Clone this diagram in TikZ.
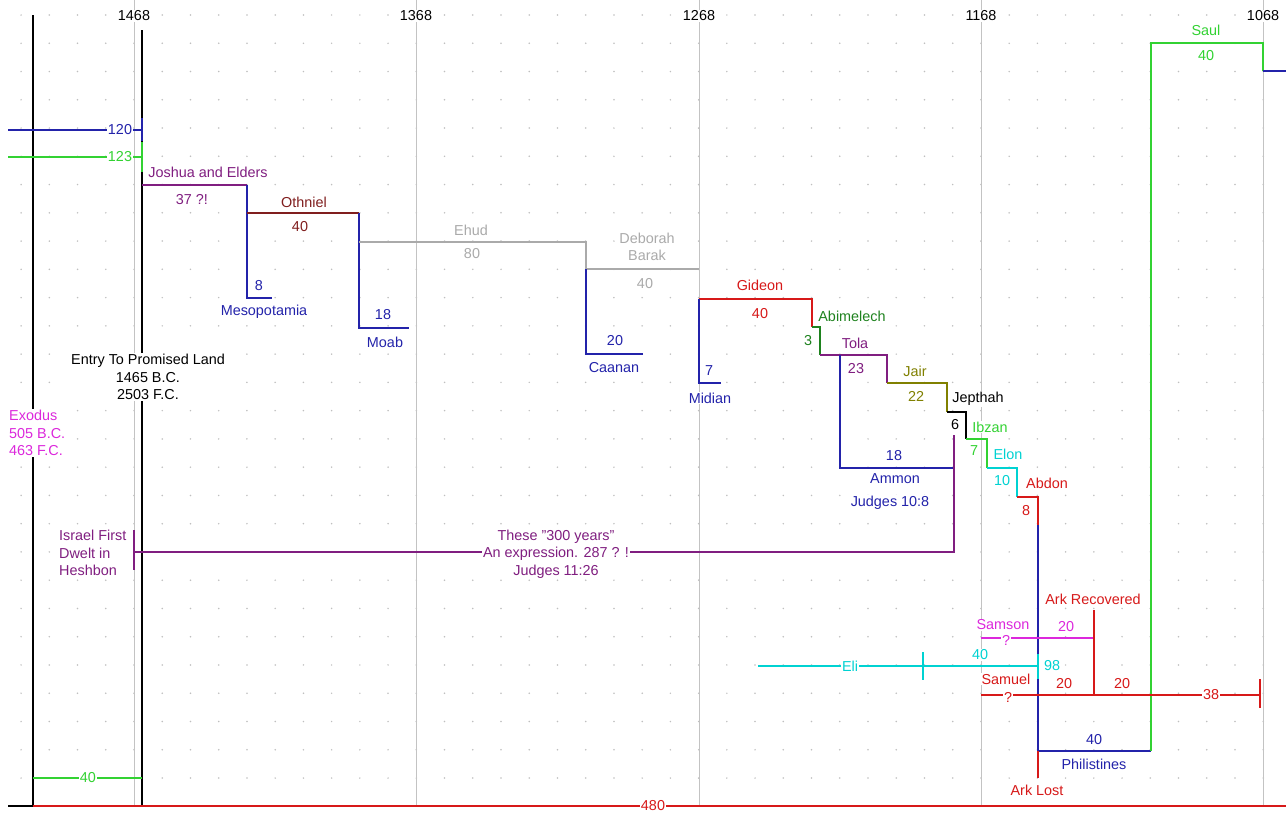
\documentclass[tikz,border=0pt]{standalone}
\usepackage{fontspec}
\setmainfont{Liberation Sans}[Ligatures=ResetAll]
\usepackage{tikz}
\usepackage{xcolor}

\definecolor{jblue}{RGB}{35,35,170}
\definecolor{jgreen}{RGB}{50,210,50}
\definecolor{jdkgreen}{RGB}{30,130,30}
\definecolor{jpurple}{RGB}{128,30,128}
\definecolor{jbrown}{RGB}{128,30,30}
\definecolor{jred}{RGB}{215,25,25}
\definecolor{jgray}{RGB}{170,170,170}
\definecolor{jolive}{RGB}{128,128,0}
\definecolor{jcyan}{RGB}{0,210,210}
\definecolor{jmagenta}{RGB}{220,40,220}
\definecolor{gridgray}{RGB}{195,195,195}

\tikzset{
  lbl/.style={font=\fontsize{14.4}{17.5}\selectfont, inner sep=1pt, fill=white, align=center, text=#1},
  lbl/.default=black,
  era/.style={line width=1.4pt},
}

\begin{document}
\begin{tikzpicture}[x=1pt,y=-1pt]
		\useasboundingbox[fill=white] (0,0) rectangle (1286,814);

		% dotted background, one dot every ten years
		\foreach \i in {0,...,44}
			\foreach \j in {0,...,27}
				\fill[gray!50] ({21.1+28.23*\i},{15+28.26*\j}) circle (0.85);

		% century lines with their years
		\foreach \x/\yr in {134/1468, 416/1368, 699/1268, 981/1168, 1263/1068} {
			\draw[gridgray, line width=1pt] (\x,0) -- (\x,806);
			\node[lbl] (yr\yr) at (\x,16) {\yr};
		}

		% exodus and entry lines
		\draw[line width=1.6pt] (33,15) -- (33,806) -- (8,806);
		\draw[line width=1.6pt] (142,30) -- (142,806);
		\draw[jred, era] (33,806) -- (1286,806);
		\draw[jgreen, era] (33,778) -- (142,778);

		% 120 and 123 years
		\draw[jblue, era] (8,130) -- (142,130);
		\draw[jblue, era] (142,118) -- (142,141);
		\draw[jgreen, era] (8,157) -- (142,157);
		\draw[jgreen, era] (142,142) -- (142,172);

		% judges and oppressions, step by step
		\draw[jpurple, era] (142,185) -- (247,185); % Joshua and Elders
		\draw[jblue, era] (247,185) -- (247,298) -- (272,298); % Mesopotamia
		\draw[jbrown, era] (247,213) -- (359,213); % Othniel
		\draw[jblue, era] (359,213) -- (359,328) -- (409,328); % Moab
		\draw[jgray, era] (359,242) -- (586,242) -- (586,269) -- (699,269); % Ehud, Deborah
		\draw[jblue, era] (586,269) -- (586,354) -- (643,354); % Caanan
		\draw[jred, era] (699,299) -- (812,299) -- (812,327); % Gideon
		\draw[jblue, era] (699,299) -- (699,383) -- (721,383); % Midian
		\draw[jdkgreen, era] (812,327) -- (820,327) -- (820,355); % Abimelech
		\draw[jpurple, era] (820,355) -- (887,355) -- (887,383); % Tola
		\draw[jblue, era] (840,355) -- (840,468) -- (954,468); % Ammon
		\draw[jolive, era] (887,383) -- (947,383) -- (947,412); % Jair
		\draw[era] (947,412) -- (966,412) -- (966,439); % Jepthah
		\draw[jgreen, era] (966,439) -- (987,439) -- (987,468); % Ibzan
		\draw[jcyan, era] (987,468) -- (1017,468) -- (1017,497); % Elon
		\draw[jred, era] (1017,497) -- (1038,497) -- (1038,525); % Abdon
		\draw[jblue, era] (1038,525) -- (1038,751) -- (1151,751); % Philistines
		\draw[jgreen, era] (1151,751) -- (1151,43) -- (1263,43) -- (1263,71); % Saul
		\draw[jblue, era] (1263,71) -- (1286,71);
		\draw[jred, era] (1038,751) -- (1038,778); % Ark lost

		% the 300 years of Judges 11:26
		\draw[jpurple, era] (954,435) -- (954,552) -- (134,552);
		\draw[jpurple, era] (134,530) -- (134,570);

		% Samson, Eli, Samuel
		\draw[jmagenta, era] (981,638) -- (1094,638);
		\draw[jred, era] (1094,610) -- (1094,695);
		\draw[jcyan, era] (758,666) -- (1038,666);
		\draw[jcyan, era] (923,652) -- (923,680);
		\draw[jcyan, era] (1038,654) -- (1038,679);
		\draw[jred, era] (981,695) -- (1260,695);
		\draw[jred, era] (1260,679) -- (1260,708);

		% labels
		\node[lbl=jmagenta, align=left, anchor=west] (exodus) at (8,433) {Exodus\\505 B.C.\\463 F.C.};
		\node[lbl] (entry) at (148,377) {Entry To Promised Land\\1465 B.C.\\2503 F.C.};
		\node[lbl=jblue] (n120) at (120,130) {120};
		\node[lbl=jgreen] (n123) at (120,157) {123};
		\node[lbl=jgreen] (n40a) at (88,778) {40};
		\node[lbl=jred] (n480) at (653,806) {480};

		\node[lbl=jpurple] (joshua) at (208,172) {Joshua and Elders};
		\node[lbl=jpurple] (joshuayr) at (192,200) {37 ?!};
		\node[lbl=jblue] (mesoyr) at (259,286) {8};
		\node[lbl=jblue] (meso) at (264,312) {Mesopotamia};
		\node[lbl=jbrown] (othniel) at (304,202) {Othniel};
		\node[lbl=jbrown] (othnielyr) at (300,227) {40};
		\node[lbl=jblue] (moabyr) at (383,315) {18};
		\node[lbl=jblue] (moab) at (385,342) {Moab};
		\node[lbl=jgray] (ehud) at (471,230) {Ehud};
		\node[lbl=jgray] (ehudyr) at (472,254) {80};
		\node[lbl=jgray] (deborah) at (647,247) {Deborah\\Barak};
		\node[lbl=jgray] (deborahyr) at (645,284) {40};
		\node[lbl=jblue] (caananyr) at (615,341) {20};
		\node[lbl=jblue] (caanan) at (614,368) {Caanan};
		\node[lbl=jred] (gideon) at (760,285) {Gideon};
		\node[lbl=jred] (gideonyr) at (760,314) {40};
		\node[lbl=jblue] (midianyr) at (709,371) {7};
		\node[lbl=jblue] (midian) at (710,398) {Midian};
		\node[lbl=jdkgreen] (abimelech) at (852,316) {Abimelech};
		\node[lbl=jdkgreen] (abimelechyr) at (808,341) {3};
		\node[lbl=jpurple] (tola) at (855,343) {Tola};
		\node[lbl=jpurple] (tolayr) at (856,369) {23};
		\node[lbl=jblue] (ammonyr) at (894,456) {18};
		\node[lbl=jblue] (ammon) at (895,479) {Ammon};
		\node[lbl=jblue] (ammonref) at (890,503) {Judges 10:8};
		\node[lbl=jolive] (jair) at (915,371) {Jair};
		\node[lbl=jolive] (jairyr) at (916,396) {22};
		\node[lbl] (jepthah) at (978,399) {Jepthah};
		\node[lbl] (jepthahyr) at (955,425) {6};
		\node[lbl=jgreen] (ibzan) at (990,427) {Ibzan};
		\node[lbl=jgreen] (ibzanyr) at (974,451) {7};
		\node[lbl=jcyan] (elon) at (1008,454) {Elon};
		\node[lbl=jcyan] (elonyr) at (1002,481) {10};
		\node[lbl=jred] (abdon) at (1047,483) {Abdon};
		\node[lbl=jred] (abdonyr) at (1026,511) {8};
		\node[lbl=jblue] (philyr) at (1094,740) {40};
		\node[lbl=jblue] (phil) at (1094,764) {Philistines};
		\node[lbl=jgreen] (saul) at (1206,30) {Saul};
		\node[lbl=jgreen] (saulyr) at (1206,56) {40};
		\node[lbl=jred] (arklost) at (1037,790) {Ark Lost};

		\node[lbl=jpurple, align=left, anchor=west] (heshbon) at (58,553) {Israel First\\Dwelt in\\Heshbon};
		\node[lbl=jpurple] (years300) at (556,554) {These "300 years"\\An expression. 287 ? !\\Judges 11:26};

		\node[lbl=jmagenta] (samson) at (1003,625) {Samson};
		\node[lbl=jmagenta] (samsonq) at (1006,640) {?};
		\node[lbl=jmagenta] (samsonyr) at (1066,627) {20};
		\node[lbl=jred] (arkrec) at (1093,599) {Ark Recovered};
		\node[lbl=jcyan] (eli) at (850,666) {Eli};
		\node[lbl=jcyan] (eliyr) at (980,655) {40};
		\node[lbl=jcyan] (eli98) at (1052,666) {98};
		\node[lbl=jred] (samuel) at (1006,679) {Samuel};
		\node[lbl=jred] (samuelq) at (1008,697) {?};
		\node[lbl=jred] (samuelyra) at (1064,684) {20};
		\node[lbl=jred] (samuelyrb) at (1122,684) {20};
		\node[lbl=jred] (samuel38) at (1211,695) {38};
	\end{tikzpicture}
\end{document}
